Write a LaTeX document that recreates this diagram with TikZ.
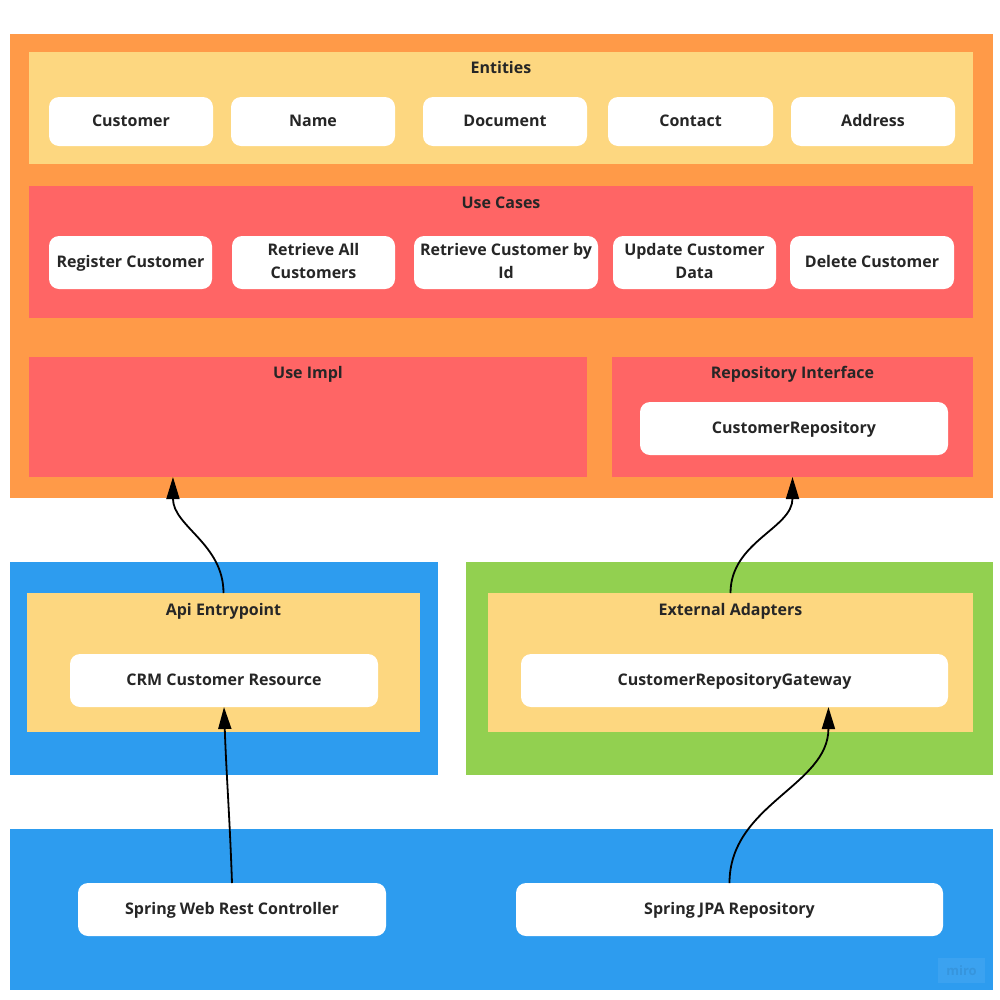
\documentclass[tikz,border=0pt]{standalone}
\usepackage{fontspec}
\setmainfont{Open Sans}
\usetikzlibrary{arrows.meta,calc}
\definecolor{coreorange}{HTML}{FF9A48}
\definecolor{panelyellow}{HTML}{FDD780}
\definecolor{panelred}{HTML}{FF6565}
\definecolor{outerblue}{HTML}{2D9CEF}
\definecolor{outergreen}{HTML}{92D050}
\definecolor{inktext}{HTML}{262626}
\begin{document}
\begin{tikzpicture}[x=1pt,y=-1pt,
  every node/.style={inner sep=0pt,outer sep=0pt,font=\fontsize{16}{23}\selectfont\bfseries,text=inktext},
  panel/.style={rectangle,draw=none},
  card/.style={rectangle,fill=white,draw=none,rounded corners=10pt,align=center},
  title/.style={anchor=center,text height=11.5pt,text depth=3.5pt},
  oneline/.style={text height=11.5pt,text depth=1.5pt},
  twoline/.style={text depth=4pt},
  flow/.style={draw=black,line width=1.8pt,-{Triangle[length=22pt,width=13pt]}}]
\useasboundingbox (0,0) rectangle (1000,999);

% core layers
\node[panel,fill=coreorange,minimum width=983pt,minimum height=464pt] (core) at (501.5,266) {};
\node[panel,fill=panelyellow,minimum width=944pt,minimum height=112pt] (entities) at (501,108) {};
\node[title] (entitiesT) at (501,69.5) {Entities};
\node[card,oneline,minimum width=164pt,minimum height=49pt] (customer) at (131,121.5) {Customer};
\node[card,oneline,minimum width=164pt,minimum height=49pt] (name) at (313,121.5) {Name};
\node[card,oneline,minimum width=164pt,minimum height=49pt] (document) at (505,121.5) {Document};
\node[card,oneline,minimum width=165pt,minimum height=49pt] (contact) at (690.5,121.5) {Contact};
\node[card,oneline,minimum width=164pt,minimum height=49pt] (address) at (873,121.5) {Address};

\node[panel,fill=panelred,minimum width=944pt,minimum height=132pt] (usecases) at (501,252) {};
\node[title] (usecasesT) at (501,204.5) {Use Cases};
\node[card,oneline,minimum width=163pt,minimum height=53pt] (register) at (130.5,262.5) {Register Customer};
\node[card,twoline,minimum width=163pt,minimum height=53pt] (retrall) at (313.5,262.5) {Retrieve All\\Customers};
\node[card,twoline,minimum width=184pt,minimum height=53pt] (retrid) at (506,262.5) {Retrieve Customer by\\Id};
\node[card,twoline,minimum width=163pt,minimum height=53pt] (update) at (694.5,262.5) {Update Customer\\Data};
\node[card,oneline,minimum width=164pt,minimum height=53pt] (delete) at (872,262.5) {Delete Customer};

\node[panel,fill=panelred,minimum width=558pt,minimum height=120pt] (impl) at (308,417) {};
\node[title] (implT) at (308,374.5) {Use Impl};
\node[panel,fill=panelred,minimum width=361pt,minimum height=120pt] (repoif) at (792.5,417) {};
\node[title] (repoifT) at (792.5,374.5) {Repository Interface};
\node[card,oneline,minimum width=308pt,minimum height=53pt] (custrepo) at (794,428.5) {CustomerRepository};

% adapter layer
\node[panel,fill=outerblue,minimum width=428pt,minimum height=213pt] (apiouter) at (224,668.5) {};
\node[panel,fill=panelyellow,minimum width=393pt,minimum height=139pt] (api) at (223.5,662.5) {};
\node[title] (apiT) at (223.5,611.5) {Api Entrypoint};
\node[card,oneline,minimum width=308pt,minimum height=53pt] (crm) at (224,680.5) {CRM Customer Resource};

\node[panel,fill=outergreen,minimum width=527pt,minimum height=213pt] (extouter) at (729.5,668.5) {};
\node[panel,fill=panelyellow,minimum width=485pt,minimum height=139pt] (ext) at (730.5,662.5) {};
\node[title] (extT) at (730.5,611.5) {External Adapters};
\node[card,oneline,minimum width=427pt,minimum height=53pt] (gateway) at (734.5,680.5) {CustomerRepositoryGateway};

% framework layer
\node[panel,fill=outerblue,minimum width=983pt,minimum height=161pt] (frame) at (501.5,909.5) {};
\node[card,oneline,minimum width=308pt,minimum height=53pt] (web) at (232,909.5) {Spring Web Rest Controller};
\node[card,oneline,minimum width=427pt,minimum height=53pt] (jpa) at (729.5,909.5) {Spring JPA Repository};
\node[panel,fill=white,fill opacity=0.07,minimum width=47pt,minimum height=25pt,
  text opacity=0.08,text=black,font=\fontsize{13}{13}\selectfont\bfseries] (badge) at (961.5,970.5) {miro};

% dependency arrows
\coordinate (implIn) at ($(impl.south west)!0.258!(impl.south east)$);
\coordinate (gatewayIn) at ($(gateway.south west)!0.72!(gateway.south east)$);
\draw[flow] (web.north) to[out=92,in=-88] (crm.south);
\draw[flow] (api.north) to[out=90,in=-90] (implIn);
\draw[flow] (ext.north) to[out=90,in=-90] (repoif.south);
\draw[flow] (jpa.north) to[out=90,in=-90] (gatewayIn);
\end{tikzpicture}
\end{document}
